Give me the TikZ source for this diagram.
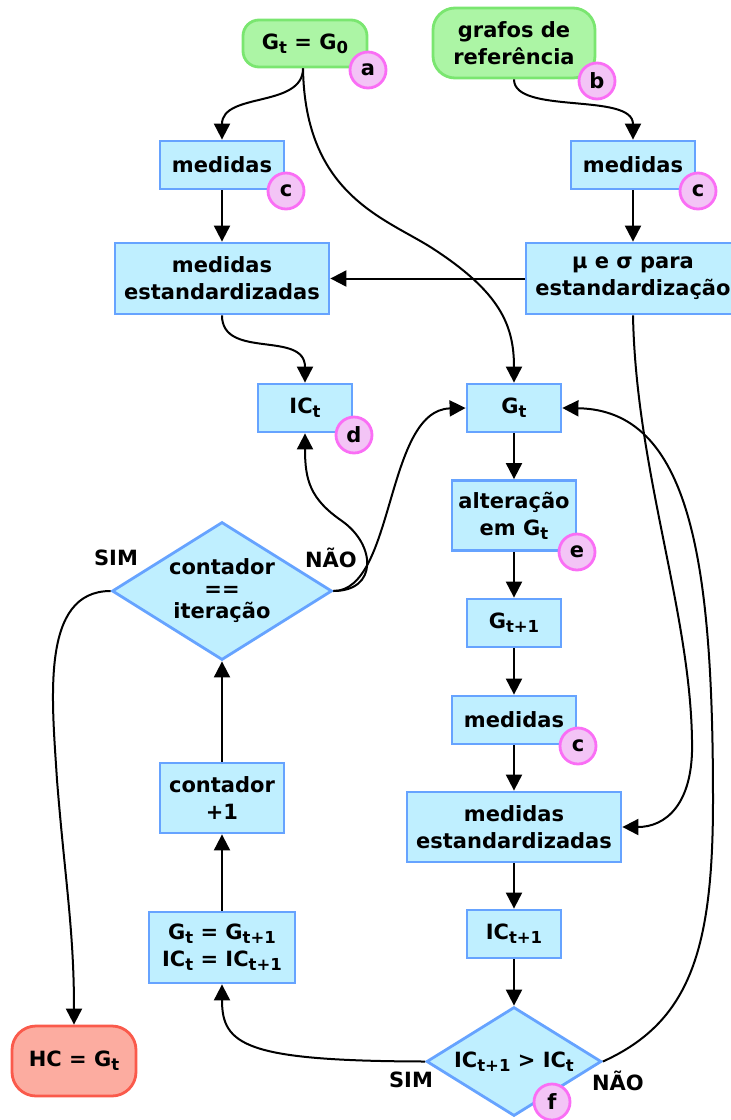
\documentclass[tikz,border=0pt]{standalone}
\usepackage{fontspec}
\setmainfont{DejaVu Sans}
\usetikzlibrary{arrows.meta,shapes.geometric}
\definecolor{boxfill}{RGB}{191,239,255}
\definecolor{boxline}{RGB}{102,163,255}
\definecolor{startfill}{RGB}{172,245,165}
\definecolor{startline}{RGB}{122,230,112}
\definecolor{endfill}{RGB}{252,172,160}
\definecolor{endline}{RGB}{250,90,75}
\definecolor{badgefill}{RGB}{243,196,246}
\definecolor{badgeline}{RGB}{250,110,245}
% lowered, reduced index used in the labels
\newcommand\idx[1]{\raisebox{-4pt}{\fontsize{16.5}{16.5}\selectfont #1}}
\begin{document}
\begin{tikzpicture}[x=1pt,y=-1pt,
  every node/.style={font=\fontsize{21}{27}\selectfont\bfseries, inner sep=0pt, align=center},
  box/.style={rectangle, draw=boxline, fill=boxfill, line width=2.8pt},
  startbox/.style={rectangle, rounded corners=16pt, draw=startline, fill=startfill, line width=2.8pt},
  endbox/.style={rectangle, rounded corners=24pt, draw=endline, fill=endfill, line width=2.8pt},
  decision/.style={diamond, draw=boxline, fill=boxfill, line width=2.8pt, aspect=1.6},
  badge/.style={circle, draw=badgeline, fill=badgefill, line width=2.8pt, minimum size=36pt},
  link/.style={line width=2pt, -{Triangle[length=16pt,width=16pt]}},
  lbl/.style={}
]
\useasboundingbox (0,0) rectangle (731,1120);
\clip (0,0) rectangle (731,1120);

% start nodes
\node[startbox, minimum width=124pt, minimum height=47pt] (a) at (305,43.5) {G\idx{t} = G\idx{0}};
\node[startbox, rounded corners=22pt, minimum width=162pt, minimum height=70pt] (b) at (514,43) {grafos de\\referência};

% left column
\node[box, minimum width=124pt, minimum height=48pt] (med1) at (222,165) {medidas};
\node[box, minimum width=214pt, minimum height=71pt] (std1) at (222,278.5) {medidas\\estandardizadas};
\node[box, minimum width=94pt, minimum height=48pt] (ic) at (305,408) {IC\idx{t}};
\node[decision, minimum width=220pt, minimum height=138pt] (cnt) at (222,591) {contador\\[-5pt]==\\[-5pt]iteração};
\node[box, minimum width=124pt, minimum height=70pt] (inc) at (222,798) {contador\\+1};
\node[box, minimum width=146pt, minimum height=71pt] (upd) at (222,947.5) {G\idx{t} = G\idx{t+1}\\IC\idx{t} = IC\idx{t+1}};
\node[endbox, minimum width=124pt, minimum height=70pt] (hc) at (74,1061) {HC = G\idx{t}};

% right column
\node[box, minimum width=124pt, minimum height=48pt] (med2) at (633,165) {medidas};
\node[box, minimum width=214pt, minimum height=71pt] (norm) at (633,278.5) {µ e σ para\\estandardização};
\node[box, minimum width=94pt, minimum height=48pt] (g) at (514,408) {G\idx{t}};
\node[box, minimum width=124pt, minimum height=70pt] (alt) at (514,515.5) {alteração\\em G\idx{t}};
\node[box, minimum width=94pt, minimum height=48pt] (g1) at (514,623) {G\idx{t+1}};
\node[box, minimum width=124pt, minimum height=48pt] (med3) at (514,720) {medidas};
\node[box, minimum width=214pt, minimum height=70pt] (std2) at (514,827) {medidas\\estandardizadas};
\node[box, minimum width=94pt, minimum height=48pt] (ic1) at (514,934) {IC\idx{t+1}};
\node[decision, minimum width=175pt, minimum height=109pt] (cmp) at (514,1061.5) {IC\idx{t+1} > IC\idx{t}};

% badges
\node[badge] (ba) at (368,70) {a};
\node[badge] (bb) at (597,81) {b};
\node[badge] (bc1) at (286,191) {c};
\node[badge] (bc2) at (698,191) {c};
\node[badge] (bd) at (354,435) {d};
\node[badge] (be) at (577,552) {e};
\node[badge] (bc3) at (578,746) {c};
\node[badge] (bf) at (552,1102) {f};

% branch labels
\node[lbl] (sim1) at (116,558) {SIM};
\node[lbl] (nao1) at (331,558) {NÃO};
\node[lbl] (sim2) at (411,1080) {SIM};
\node[lbl] (nao2) at (618,1081) {NÃO};

% connectors
\draw[link] ([xshift=-2pt]a.south) .. controls (303,108) and (222,92) .. (med1.north);
\draw[link] ([xshift=-2pt]a.south) .. controls (305,195) and (385,218) .. (432,248)
  .. controls (500,292) and (514,325) .. (g.north);
\draw[link] (b.south) .. controls (514,115) and (633,92) .. (med2.north);
\draw[link] (med1) -- (std1);
\draw[link] (med2) -- (norm);
\draw[link] (norm.west) -- (std1.east);
\draw[link] (std1.south) .. controls (222,360) and (305,330) .. (ic.north);
\draw[link] (norm.south) .. controls (636,470) and (690,610) .. (692,740)
  .. controls (694,805) and (665,827) .. (std2.east);
\draw[link] (g.south) -- (alt.north);
\draw[link] (alt.south) -- (g1.north);
\draw[link] (g1.south) -- (med3.north);
\draw[link] (med3.south) -- (std2.north);
\draw[link] (std2.south) -- (ic1.north);
\draw[link] (ic1.south) -- (cmp.north);
\draw[link] (cmp.west) .. controls (245,1061) and (222,1045) .. (upd.south);
\draw[link] (cmp.east) .. controls (690,1022) and (713,950) .. (713,800)
  .. controls (713,560) and (690,410) .. (g.east);
\draw[link] (upd.north) -- (inc.south);
\draw[link] (inc.north) -- (cnt.south);
\draw[link] (cnt.east) .. controls (378,591) and (376,545) .. (342,521)
  .. controls (310,499) and (305,480) .. (ic.south);
\draw[link] (cnt.east) .. controls (395,591) and (385,410) .. (g.west);
\draw[link] (cnt.west) .. controls (40,591) and (52,700) .. (57,780)
  .. controls (65,880) and (74,930) .. (hc.north);
\end{tikzpicture}
\end{document}
